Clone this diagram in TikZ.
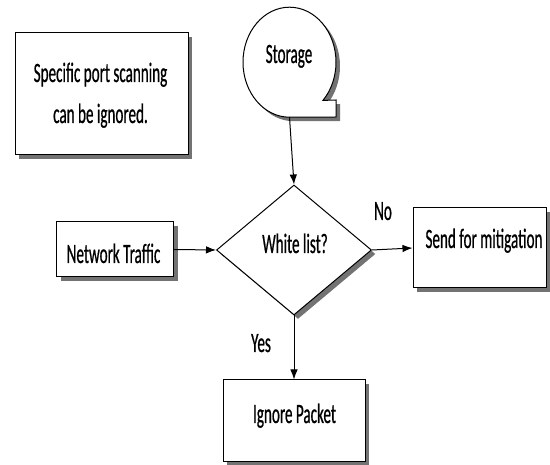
\documentclass[tikz,border=0pt]{standalone}
\usepackage{fontspec}
\setmainfont{Carlito}[FakeStretch=0.54, FakeBold=0.6]
\usetikzlibrary{shapes.geometric,shadows,arrows.meta}

\tikzset{
  shade/.style={drop shadow={shadow xshift=4pt, shadow yshift=-4pt, fill=black!55, opacity=1}},
  boxnode/.style={draw=black, line width=1pt, fill=white, shade, rectangle, inner sep=0pt},
  decision/.style={draw=black, line width=1pt, fill=white, shade, diamond, inner sep=0pt},
  lbl/.style={font=\fontsize{28}{41}\selectfont, inner sep=0pt, anchor=base},
  flow/.style={draw=black, line width=1pt, -{Latex[length=10pt,width=7.5pt]}},
}

\begin{document}
\begin{tikzpicture}[x=1pt,y=-1pt]
\useasboundingbox (0,0) rectangle (550,465);
\fill[white] (0,0) rectangle (550,465);

% note box
\node[boxnode, minimum width=173pt, minimum height=122pt] (note) at (101.5,94) {};
\node[lbl] (noteA) at (100.5,82) {Specific port scanning};
\node[lbl] (noteB) at (100.5,123) {can be ignored.};

% storage (sequential data) symbol drawn around a plain node
\node[inner sep=0pt, ellipse, minimum width=93pt, minimum height=110pt] (storage) at (289.5,62) {};
\draw[line width=1pt, fill=white, shade]
  (storage.south) arc[start angle=90, end angle=404, x radius=46.5, y radius=55]
  -- (336,100) -- (336,117) -- cycle;
\node[lbl] (storageT) at (289,63) {Storage};

% main flow
\node[decision, minimum width=155pt, minimum height=130pt] (wl) at (294,250) {};
\node[lbl] (wlT) at (295,253) {White list?};
\node[boxnode, minimum width=117pt, minimum height=55pt] (net) at (115,249.5) {};
\node[lbl] (netT) at (113.5,263) {Network Traffic};
\node[boxnode, minimum width=133pt, minimum height=80pt] (send) at (479.5,248) {};
\node[lbl] (sendT) at (484,248) {Send for mitigation};
\node[boxnode, minimum width=142pt, minimum height=82pt] (ign) at (294,421) {};
\node[lbl] (ignT) at (294.5,423) {Ignore Packet};

\node[lbl] (no) at (383,220) {No};
\node[lbl] (yes) at (261,352) {Yes};

\draw[flow] (storage.south) -- (wl.north);
\draw[flow] (net.east) -- (wl.west);
\draw[flow] (wl.east) -- (send.west);
\draw[flow] (wl.south) -- (ign.north);
\end{tikzpicture}
\end{document}
